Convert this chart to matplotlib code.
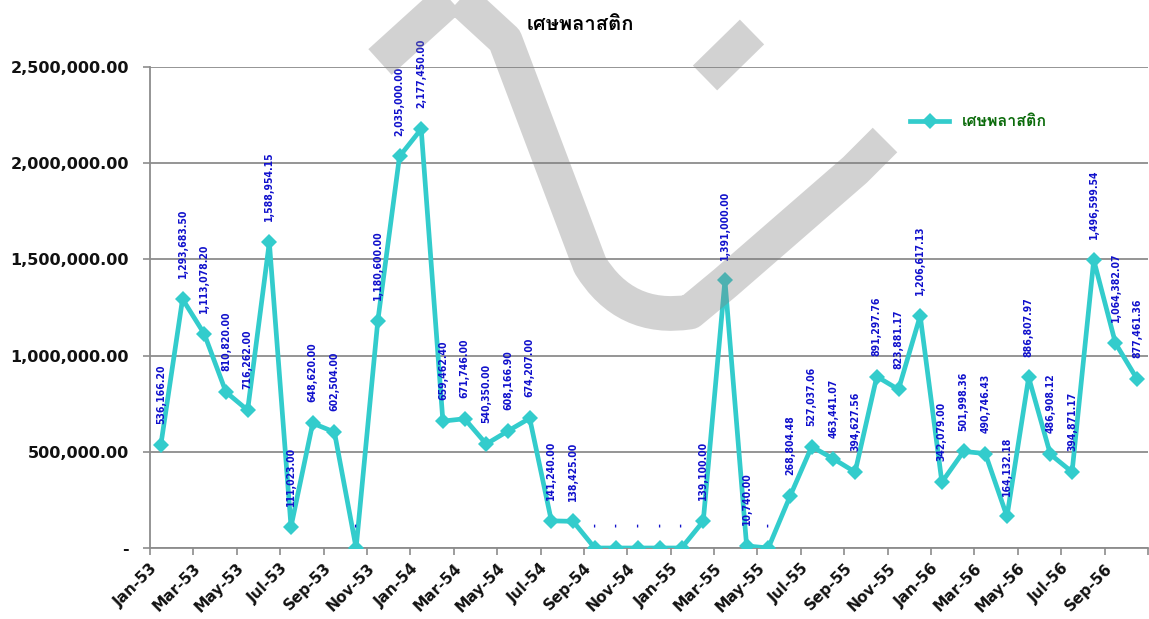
import matplotlib
matplotlib.use("Agg")
import matplotlib.pyplot as plt
from matplotlib import font_manager
from matplotlib.path import Path
from matplotlib.patches import PathPatch
from matplotlib.ticker import FuncFormatter
from fontTools.ttLib import TTFont

# monthly plastic scrap, Jan-53 .. Oct-56 (Thai years)
months = [
    "Jan-53", "Feb-53", "Mar-53", "Apr-53", "May-53", "Jun-53",
    "Jul-53", "Aug-53", "Sep-53", "Oct-53", "Nov-53", "Dec-53",
    "Jan-54", "Feb-54", "Mar-54", "Apr-54", "May-54", "Jun-54",
    "Jul-54", "Aug-54", "Sep-54", "Oct-54", "Nov-54", "Dec-54",
    "Jan-55", "Feb-55", "Mar-55", "Apr-55", "May-55", "Jun-55",
    "Jul-55", "Aug-55", "Sep-55", "Oct-55", "Nov-55", "Dec-55",
    "Jan-56", "Feb-56", "Mar-56", "Apr-56", "May-56", "Jun-56",
    "Jul-56", "Aug-56", "Sep-56", "Oct-56",
]
values = [
    536166.20, 1293683.50, 1113078.20, 810820.00, 716262.00, 1588954.15,
    111023.00, 648620.00, 602504.00, 0, 1180600.00, 2035000.00,
    2177450.00, 659462.40, 671746.00, 540350.00, 608166.90, 674207.00,
    141240.00, 138425.00, 0, 0, 0, 0,
    0, 139100.00, 1391000.00, 10740.00, 0, 268804.48,
    527037.06, 463441.07, 394627.56, 891297.76, 823881.17, 1206617.13,
    342079.00, 501998.36, 490746.43, 164132.18, 886807.97, 486908.12,
    394871.17, 1496599.54, 1064382.07, 877461.36,
]
title = "เศษพลาสติก"
series_name = "เศษพลาสติก"


def thai_font():
    for entry in font_manager.fontManager.ttflist:
        try:
            cmap = TTFont(entry.fname, fontNumber=0, lazy=True).getBestCmap()
        except Exception:
            continue
        if cmap and 0x0E28 in cmap:
            return entry.name
    return "DejaVu Sans"


thai = thai_font()
line_color = "#33CCCC"
grid_color = "#8c8c8c"

fig = plt.figure(figsize=(11.49, 6.19), dpi=100)
ax = fig.add_axes([150 / 1149, 71 / 619, 998 / 1149, 481 / 619])

x = list(range(len(values)))
ax.plot(x, values, color=line_color, lw=3.4, marker="D", markersize=8.5,
        markeredgewidth=0, label=series_name, zorder=3)

for xi, v in zip(x, values):
    txt = "-" if v == 0 else f"{v:,.2f}"
    ax.annotate(txt, (xi, v), xytext=(0, 15), textcoords="offset points",
                rotation=90, ha="center", va="bottom", color="#1010CC",
                fontsize=7.5, fontweight="bold", fontstretch="condensed",
                zorder=4)

ax.set_xlim(-0.5, len(values) - 0.5)
ax.set_ylim(0, 2500000)
ax.set_yticks([0, 500000, 1000000, 1500000, 2000000, 2500000])
ax.yaxis.set_major_formatter(FuncFormatter(lambda v, _: "-" if v == 0 else f"{v:,.2f}"))
ax.grid(axis="y", color=grid_color, lw=1.3)
ax.set_axisbelow(True)

ticks = [i - 0.5 for i in range(0, len(values) + 1, 2)]
ax.set_xticks(ticks)
ax.set_xticklabels(months[::2] + [""], rotation=45, ha="right",
                   rotation_mode="anchor")

for side in ["top", "right"]:
    ax.spines[side].set_visible(False)
for side in ["left", "bottom"]:
    ax.spines[side].set_color(grid_color)
    ax.spines[side].set_linewidth(1.3)

ax.tick_params(axis="y", length=5, width=1.2, color=grid_color, pad=10,
               labelsize=11.5)
ax.tick_params(axis="x", length=5, width=1.2, color=grid_color, pad=4,
               labelsize=11)
for lab in ax.get_xticklabels() + ax.get_yticklabels():
    lab.set_fontweight("bold")
    lab.set_color("#111111")

leg = ax.legend(loc="center left", bbox_to_anchor=(0.762, 0.886), frameon=False,
                handlelength=2.4, borderaxespad=0, borderpad=0,
                prop={"family": [thai, "DejaVu Sans"], "size": 11.5, "weight": "bold"})
for t in leg.get_texts():
    t.set_color("#0b6b0b")

fig.text(580 / 1149, 1 - 25 / 619, title, ha="center", va="center",
         fontsize=14.5, fontweight="bold", family=[thai, "DejaVu Sans"])

# grey watermark stroke laid over the chart
def px(pt):
    return (pt[0] / 1149, 1 - pt[1] / 619)


mark = [(380, 62), (455, -6), (505, 40), (590, 265), (625, 322), (690, 312),
        (725, 283), (855, 170), (885, 140)]
codes = [Path.MOVETO, Path.LINETO, Path.LINETO, Path.LINETO, Path.CURVE3,
         Path.CURVE3, Path.LINETO, Path.LINETO, Path.LINETO]
fig.add_artist(PathPatch(Path([px(p) for p in mark], codes), fill=False,
                         edgecolor="gray", alpha=0.35, lw=25,
                         transform=fig.transFigure, zorder=10,
                         capstyle="butt", joinstyle="round"))
blob = [(705, 78), (752, 32)]
fig.add_artist(PathPatch(Path([px(p) for p in blob]), fill=False,
                         edgecolor="gray", alpha=0.35, lw=25,
                         transform=fig.transFigure, zorder=10,
                         capstyle="butt"))

fig.savefig("out.png", dpi=100)
